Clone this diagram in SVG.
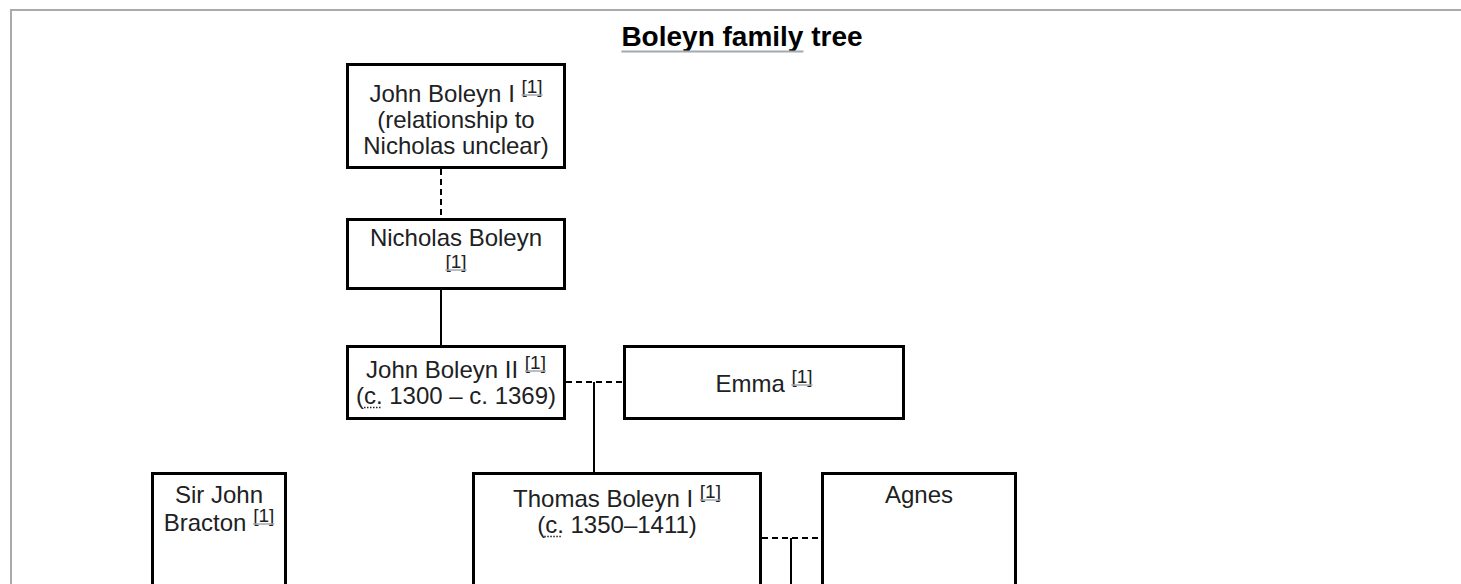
<svg xmlns="http://www.w3.org/2000/svg" width="1461" height="584" viewBox="0 0 1461 584">
<style>
.box{fill:#fff;stroke:#000;stroke-width:3}
.t{font-family:"Liberation Sans",Arial,sans-serif;font-size:24px;fill:#202122;text-anchor:middle}
.sup{font-size:19px}
.ul{stroke:#a2a9b1;stroke-width:1.5}
.dot{stroke:#202122;stroke-width:1.5;stroke-dasharray:1.5,1.5}
.solid{stroke:#000;stroke-width:2;fill:none}
.dash{stroke:#000;stroke-width:2;fill:none;stroke-dasharray:6,4}
</style>
<rect x="0" y="0" width="1461" height="584" fill="#fff"/>
<path d="M1470 10 H11 V600" fill="none" stroke="#aaaaaa" stroke-width="2"/>
<g id="title">
<text x="742" y="46" font-family="Liberation Sans,Arial,sans-serif" font-size="28" font-weight="bold" fill="#000" text-anchor="middle">Boleyn family tree</text>
<line x1="621.4" y1="51.5" x2="803.4" y2="51.5" stroke="#a2a9b1" stroke-width="2"/>
</g>
<g id="connectors">
<line class="dash" x1="441" y1="169" x2="441" y2="218"/>
<line class="solid" x1="441" y1="290" x2="441" y2="345"/>
<line class="dash" x1="566" y1="382" x2="623" y2="382"/>
<line class="solid" x1="594" y1="382" x2="594" y2="472"/>
<line class="dash" x1="762" y1="538" x2="821" y2="538"/>
<line class="solid" x1="791" y1="538" x2="791" y2="600"/>
</g>
<g id="john-boleyn-i">
<rect class="box" x="347.5" y="64.5" width="217" height="103"/>
<text class="t" x="456" y="102">John Boleyn I <tspan class="sup" dy="-9">[1]</tspan></text>
<line class="ul" x1="521.5" y1="95" x2="542.6" y2="95"/>
<text class="t" x="456" y="128">(relationship to</text>
<text class="t" x="456" y="154">Nicholas unclear)</text>
</g>
<g id="nicholas-boleyn">
<rect class="box" x="347.5" y="219.5" width="217" height="69"/>
<text class="t" x="456" y="246">Nicholas Boleyn</text>
<text class="t sup" x="456" y="268">[1]</text>
<line class="ul" x1="445.4" y1="270" x2="466.6" y2="270"/>
</g>
<g id="john-boleyn-ii">
<rect class="box" x="347.5" y="346.5" width="217" height="72"/>
<text class="t" x="456" y="378">John Boleyn II <tspan class="sup" dy="-9">[1]</tspan></text>
<line class="ul" x1="524.9" y1="371" x2="546" y2="371"/>
<text class="t" x="456" y="404">(c. 1300 – c. 1369)</text>
<line class="dot" x1="364" y1="407.5" x2="381" y2="407.5"/>
</g>
<g id="emma">
<rect class="box" x="624.5" y="346.5" width="279" height="72"/>
<text class="t" x="764" y="392">Emma <tspan class="sup" dy="-9">[1]</tspan></text>
<line class="ul" x1="791.4" y1="385" x2="812.5" y2="385"/>
</g>
<g id="sir-john-bracton">
<rect class="box" x="152.5" y="473.5" width="133" height="200"/>
<text class="t" x="219" y="503">Sir John</text>
<text class="t" x="219" y="531">Bracton <tspan class="sup" dy="-9">[1]</tspan></text>
<line class="ul" x1="253.1" y1="524" x2="274.2" y2="524"/>
</g>
<g id="thomas-boleyn-i">
<rect class="box" x="473.5" y="473.5" width="287" height="200"/>
<text class="t" x="617" y="507">Thomas Boleyn I <tspan class="sup" dy="-9">[1]</tspan></text>
<line class="ul" x1="699.8" y1="500" x2="720.9" y2="500"/>
<text class="t" x="617" y="533">(c. 1350–1411)</text>
<line class="dot" x1="544.3" y1="536.5" x2="561" y2="536.5"/>
</g>
<g id="agnes">
<rect class="box" x="822.5" y="473.5" width="193" height="200"/>
<text class="t" x="919" y="503">Agnes</text>
</g>
</svg>
